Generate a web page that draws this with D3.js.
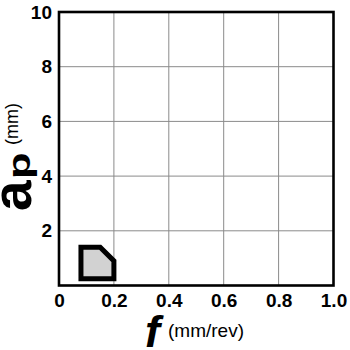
<!DOCTYPE html>
<html>
<head>
<meta charset="utf-8">
<script src="https://cdn.jsdelivr.net/npm/d3@7"></script>
<style>
  body { margin: 0; background: #fff; }
  svg { display: block; }
  .tick text { font-family: "Liberation Sans", Arial, sans-serif; font-weight: bold; font-size: 19px; fill: #000; }
  .lbl { font-family: "Liberation Sans", Arial, sans-serif; fill: #000; }
</style>
</head>
<body>
<svg width="350" height="350"></svg>
<script>
// Data
var fTicks = [0, 0.2, 0.4, 0.6, 0.8, 1.0];
var apTicks = [2, 4, 6, 8, 10];
// chip-breaking area outline (f, ap)
var areaF = [0.08, 0.08, 0.15, 0.2, 0.2];
var areaAp = [0.25, 1.4, 1.4, 0.9, 0.25];

var svg = d3.select("svg"),
  margin = { top: 12, right: 16.5, bottom: 64.5, left: 59 },
  width = +svg.attr("width") - margin.left - margin.right,
  height = +svg.attr("height") - margin.top - margin.bottom;

var x = d3.scaleLinear().domain([0, 1]).range([0, width]);
var y = d3.scaleLinear().domain([0, 10]).range([height, 0]);

var g = svg.append("g").attr("transform", "translate(" + margin.left + "," + margin.top + ")");

// grid
g.append("g")
  .selectAll("line")
  .data(fTicks.slice(1, -1))
  .enter()
  .append("line")
  .attr("x1", function (d) { return x(d); })
  .attr("x2", function (d) { return x(d); })
  .attr("y1", 0)
  .attr("y2", height)
  .attr("stroke", "#8a8a8a")
  .attr("stroke-width", 1);

g.append("g")
  .selectAll("line")
  .data(apTicks.slice(0, -1))
  .enter()
  .append("line")
  .attr("x1", 0)
  .attr("x2", width)
  .attr("y1", function (d) { return y(d); })
  .attr("y2", function (d) { return y(d); })
  .attr("stroke", "#8a8a8a")
  .attr("stroke-width", 1);

// area polygon
var pts = areaF.map(function (f, i) { return [x(f), y(areaAp[i])]; });
g.append("path")
  .attr("d", d3.line()(pts) + "Z")
  .attr("fill", "#d2d2d2")
  .attr("stroke", "#000")
  .attr("stroke-width", 5)
  .attr("stroke-linejoin", "miter");

// frame
g.append("rect")
  .attr("width", width)
  .attr("height", height)
  .attr("fill", "none")
  .attr("stroke", "#000")
  .attr("stroke-width", 2.6);

// axes
var xAxis = g.append("g")
  .attr("transform", "translate(0," + height + ")")
  .call(d3.axisBottom(x).tickValues(fTicks).tickSize(0).tickPadding(8)
    .tickFormat(function (d) { return d === 0 ? "0" : d3.format(".1f")(d); }));
xAxis.select(".domain").remove();

var yAxis = g.append("g")
  .call(d3.axisLeft(y).tickValues(apTicks).tickSize(0).tickPadding(7));
yAxis.select(".domain").remove();

// x label
svg.append("text").attr("class", "lbl")
  .attr("x", 145).attr("y", 347)
  .style("font-size", "45px").style("font-weight", "bold").style("font-style", "italic")
  .text("f");
svg.append("text").attr("class", "lbl")
  .attr("x", 168).attr("y", 337)
  .style("font-size", "19px")
  .text("(mm/rev)");

// y label
svg.append("text").attr("class", "lbl")
  .attr("transform", "translate(31,211) rotate(-90)")
  .style("font-size", "55px").style("font-weight", "bold")
  .text("a");
svg.append("text").attr("class", "lbl")
  .attr("transform", "translate(30,179) rotate(-90) scale(1.4,1)")
  .style("font-size", "31px").style("font-weight", "bold")
  .text("p");
svg.append("text").attr("class", "lbl")
  .attr("transform", "translate(18,145) rotate(-90)")
  .style("font-size", "18px")
  .text("(mm)");
</script>
</body>
</html>
